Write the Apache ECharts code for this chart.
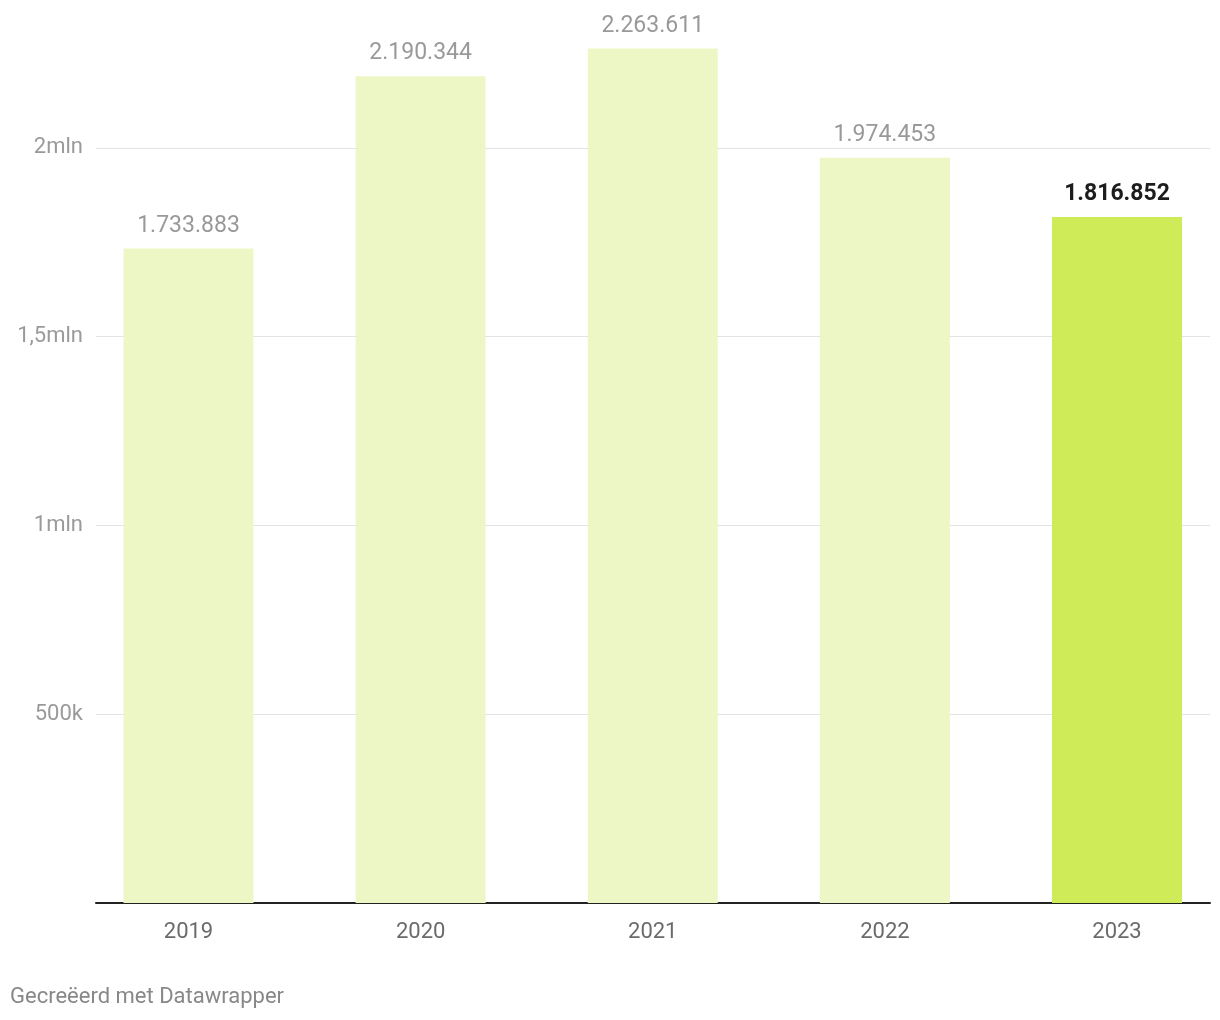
<!DOCTYPE html>
<html>
<head>
<meta charset="utf-8">
<script src="https://cdn.jsdelivr.net/npm/echarts@6/dist/echarts.min.js"></script>
<style>
html,body{margin:0;padding:0;background:#fff;}
#chart{width:1220px;height:1020px;}
</style>
</head>
<body>
<div id="chart"></div>
<script>
const categories = ['2019', '2020', '2021', '2022', '2023'];
const values = [1733883, 2190344, 2263611, 1974453, 1816852];
const highlightIndex = 4;
const yTicks = [0, 500000, 1000000, 1500000, 2000000];
const yTickLabels = ['', '500k', '1mln', '1,5mln', '2mln'];
const footer = 'Gecreëerd met Datawrapper';

const FONT = 'Roboto';
const Y_MAX = 2392000;
function fmt(v) {
  return String(v).replace(/\B(?=(\d{3})+(?!\d))/g, '.');
}

const chart = echarts.init(document.getElementById('chart'));
chart.setOption({
  animation: false,
  backgroundColor: '#ffffff',
  textStyle: { fontFamily: FONT },
  title: {
    text: footer,
    left: 5,
    top: 981,
    textStyle: { fontFamily: FONT, fontSize: 22, fontWeight: 'normal', color: '#888888' }
  },
  grid: [
    { left: 96, right: 10, top: 0, bottom: 117 },
    { left: 188.5, right: 103, top: 0, bottom: 117 }
  ],
  xAxis: [
    {
      gridIndex: 0, type: 'category', data: categories,
      axisLine: { show: true, lineStyle: { color: '#222222', width: 2 } },
      axisTick: { show: false }, axisLabel: { show: false }, splitLine: { show: false }
    },
    {
      gridIndex: 1, type: 'category', data: categories, boundaryGap: false,
      axisLine: { show: false }, axisTick: { show: false }, splitLine: { show: false },
      axisLabel: { show: true, margin: 18, fontFamily: FONT, fontSize: 22, color: '#6b6b6b' }
    }
  ],
  yAxis: [
    {
      gridIndex: 0, type: 'value', min: 0, max: Y_MAX, interval: 500000,
      axisLine: { show: false }, axisTick: { show: false },
      splitLine: {
        show: true,
        lineStyle: { color: ['#e3e3e3', '#e3e3e3', '#e3e3e3', '#e3e3e3', '#e3e3e3', 'rgba(0,0,0,0)'], width: 1 }
      },
      axisLabel: {
        margin: 13, fontFamily: FONT, fontSize: 22, color: '#9a9a9a',
        padding: [4, 0, 0, 0],
        formatter: function (v) {
          const i = yTicks.indexOf(v);
          return i >= 0 ? yTickLabels[i] : '';
        }
      }
    },
    {
      gridIndex: 1, type: 'value', min: 0, max: Y_MAX, interval: 500000, show: false,
      splitLine: { show: false }
    }
  ],
  series: [
    {
      type: 'bar',
      xAxisIndex: 1, yAxisIndex: 1,
      barWidth: 130,
      clip: false,
      data: values.map(function (v, i) {
        const hi = i === highlightIndex;
        return {
          value: v,
          itemStyle: { color: hi ? '#cfeb57' : '#edf7c5' },
          label: {
            show: true, position: 'top', distance: 11,
            fontFamily: FONT, fontSize: 23,
            fontWeight: hi ? 'bold' : 'normal',
            color: hi ? '#1d1d1d' : '#999999',
            formatter: function (p) { return fmt(p.value); }
          }
        };
      })
    }
  ]
});
</script>
</body>
</html>
